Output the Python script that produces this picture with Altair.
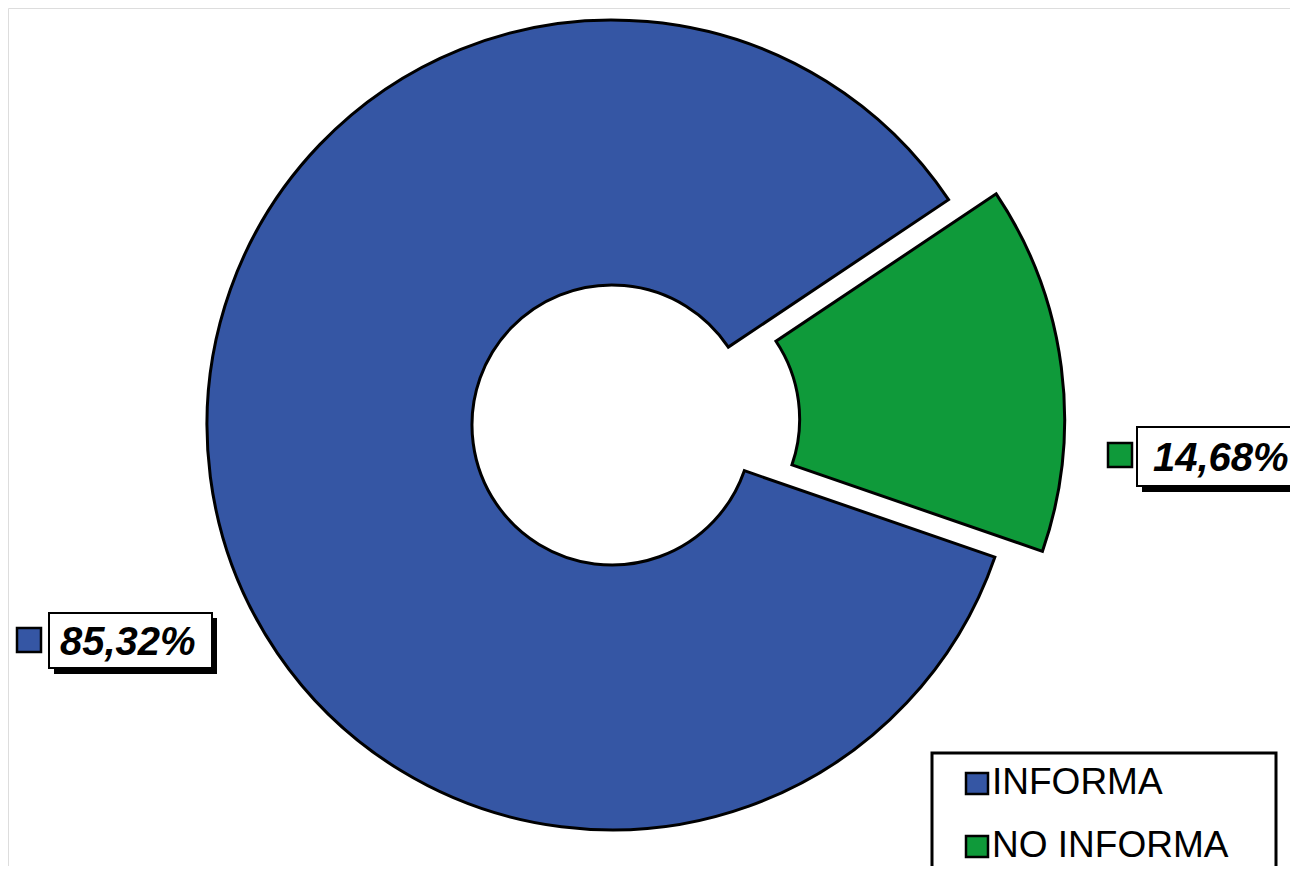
import math
import altair as alt
import pandas as pd

categories = ["INFORMA", "NO INFORMA"]
values = [85.32, 14.68]
labels = ["85,32%", "14,68%"]
colors = ["#3556a4", "#0f9a3a"]

df = pd.DataFrame({"cat": categories, "val": values, "label": labels})

W, H = 1282, 858
CX, CY = 604, 417
R_OUT, R_IN = 405, 140
start = math.radians(56.2)
explode = 48
mid_green = math.radians(83)
GX = CX + explode * math.sin(mid_green)
GY = CY - explode * math.cos(mid_green)

color_scale = alt.Scale(domain=categories, range=colors)
theta_scale = alt.Scale(domain=[0, 100], range=[start, start + 2 * math.pi])

base = alt.Chart(df).transform_window(
    end="sum(val)", sort=[alt.SortField("cat", order="descending")]
).transform_calculate(begin="datum.end - datum.val")


def arc_layer(cat, x, y):
    return base.transform_filter(alt.datum.cat == cat).mark_arc(
        innerRadius=R_IN, outerRadius=R_OUT, stroke="black", strokeWidth=3
    ).encode(
        theta=alt.Theta("begin:Q", scale=theta_scale),
        theta2="end:Q",
        fill=alt.Fill("cat:N", scale=color_scale, legend=None),
        x=alt.value(x),
        y=alt.value(y),
    )


blue = arc_layer("INFORMA", CX, CY)
green = arc_layer("NO INFORMA", GX, GY)

# label boxes (layout constants in chart coords)
box_pos = {"INFORMA": (41, 605, 204, 660), "NO INFORMA": (1129, 419, 1300, 478)}
marker_pos = {"INFORMA": (9, 620, 33, 644), "NO INFORMA": (1100, 435, 1124, 459)}
text_x = {"INFORMA": 52, "NO INFORMA": 1145}

lab_rows = []
for c, l in zip(categories, labels):
    x1, y1, x2, y2 = box_pos[c]
    mx1, my1, mx2, my2 = marker_pos[c]
    lab_rows.append(dict(cat=c, label=l, x1=x1, y1=y1, x2=x2, y2=y2,
                         mx1=mx1, my1=my1, mx2=mx2, my2=my2,
                         tx=text_x[c], ty=(y1 + y2) / 2))
ldf = pd.DataFrame(lab_rows)

px = alt.Scale(domain=[0, W], range=[0, W])
py = alt.Scale(domain=[0, H], range=[0, H])

lab = alt.Chart(ldf)
shadow = lab.mark_rect(fill="black").encode(
    x=alt.X("sx1:Q", scale=px, axis=None), x2="sx2:Q",
    y=alt.Y("sy1:Q", scale=py, axis=None), y2="sy2:Q",
).transform_calculate(sx1="datum.x1 + 5", sx2="datum.x2 + 5",
                      sy1="datum.y1 + 5", sy2="datum.y2 + 6")
box = lab.mark_rect(fill="white", stroke="black", strokeWidth=2).encode(
    x=alt.X("x1:Q", scale=px, axis=None), x2="x2:Q",
    y=alt.Y("y1:Q", scale=py, axis=None), y2="y2:Q",
)
marker = lab.mark_rect(stroke="black", strokeWidth=2.5).encode(
    x=alt.X("mx1:Q", scale=px, axis=None), x2="mx2:Q",
    y=alt.Y("my1:Q", scale=py, axis=None), y2="my2:Q",
    fill=alt.Fill("cat:N", scale=color_scale, legend=None),
)
text = lab.mark_text(align="left", baseline="middle", font="Liberation Sans",
                     fontSize=40, fontStyle="italic", fontWeight="bold",
                     dy=2).encode(
    x=alt.X("tx:Q", scale=px, axis=None),
    y=alt.Y("ty:Q", scale=py, axis=None),
    text="label:N",
)

# legend
leg_rows = []
for i, c in enumerate(categories):
    yc = 775 + i * 63
    leg_rows.append(dict(cat=c, lx1=958, lx2=980, ly1=yc - 10, ly2=yc + 11,
                         tx=984, ty=yc))
legdf = pd.DataFrame(leg_rows)
leg = alt.Chart(legdf)
legbox = alt.Chart(pd.DataFrame({"a": [0]})).mark_rect(
    fill="white", stroke="black", strokeWidth=3
).encode(
    x=alt.value(924), x2=alt.value(1268), y=alt.value(745), y2=alt.value(900)
)
legmark = leg.mark_rect(stroke="black", strokeWidth=2.5).encode(
    x=alt.X("lx1:Q", scale=px, axis=None), x2="lx2:Q",
    y=alt.Y("ly1:Q", scale=py, axis=None), y2="ly2:Q",
    fill=alt.Fill("cat:N", scale=color_scale, legend=None),
)
legtext = leg.mark_text(align="left", baseline="middle", font="Liberation Sans",
                        fontSize=37).encode(
    x=alt.X("tx:Q", scale=px, axis=None),
    y=alt.Y("ty:Q", scale=py, axis=None),
    text="cat:N",
)

chart = alt.layer(
    blue, green, shadow, box, marker, text, legbox, legmark, legtext
).properties(
    width=W, height=H, padding=0, autosize=alt.AutoSizeParams(type="none")
).configure_view(stroke="transparent", strokeWidth=0, clip=True).configure(
    background="white"
)

chart.save("out.html", embed_options={"renderer": "svg", "actions": False})
